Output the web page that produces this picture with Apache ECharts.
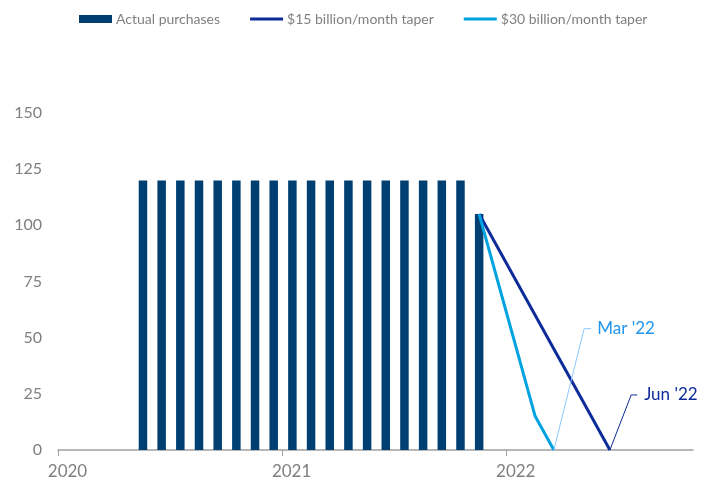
<!DOCTYPE html>
<html>
<head>
<meta charset="utf-8">
<script src="https://cdn.jsdelivr.net/npm/echarts@6/dist/echarts.min.js"></script>
<style>html,body{margin:0;padding:0;background:#fff}#c{width:711px;height:481px}</style>
</head>
<body>
<div id="c"></div>
<script>
// Data (months as 'YYYY-MM'; values in $ billion/month)
const barMonths = ['2020-05','2020-06','2020-07','2020-08','2020-09','2020-10','2020-11','2020-12',
  '2021-01','2021-02','2021-03','2021-04','2021-05','2021-06','2021-07','2021-08','2021-09','2021-10','2021-11'];
const barValues = [120,120,120,120,120,120,120,120,120,120,120,120,120,120,120,120,120,120,105];
const taper15Months = ['2021-11','2021-12','2022-01','2022-02','2022-03','2022-04','2022-05','2022-06'];
const taper15Values = [105,90,75,60,45,30,15,0];
const taper30Months = ['2021-11','2021-12','2022-01','2022-02','2022-03'];
const taper30Values = [105,75,45,15,0];
const xTickYears = [2020, 2021, 2022];
const yTicks = [0,25,50,75,100,125,150];
const seriesNames = ['Actual purchases','$15 billion/month taper','$30 billion/month taper'];
// annotation leader lines: [month position, value]
const marLeader = [['2022-03', 0], [28.17, 54], [28.55, 54]];
const junLeader = [['2022-06', 0], [30.69, 24.5], [31.01, 24.5]];

const BASE_YEAR = 2020;
const MID = 0.55;
const mPos = (s) => { const [y, m] = s.split('-').map(Number); return (y - BASE_YEAR) * 12 + (m - 1) + MID; };
const toPos = (p) => typeof p === 'string' ? mPos(p) : p;
const zip = (d, v) => d.map((x, i) => [mPos(x), v[i]]);
const leader = (arr) => arr.map(([x, v]) => [toPos(x), v]);
const yearTicks = xTickYears.map(y => (y - BASE_YEAR) * 12);

const chart = echarts.init(document.getElementById('c'), null, {renderer: 'canvas'});
const FONT = 'Lato';
const lineIcon = 'path://M0,0 M0,2.5 L33,2.5 L33,5.5 L0,5.5 Z M33,8';
chart.setOption({
  animation: false,
  textStyle: {fontFamily: FONT},
  legend: {
    top: 12, left: 79, padding: 0,
    itemWidth: 33, itemHeight: 8, itemGap: 30,
    textStyle: {color: '#808080', fontSize: 14, fontFamily: FONT, padding: [0,0,0,-1]},
    data: [{name: seriesNames[0], icon: 'rect'}, {name: seriesNames[1], icon: lineIcon}, {name: seriesNames[2], icon: lineIcon}]
  },
  grid: {left: 58, right: 18, top: 113, bottom: 31, containLabel: false},
  xAxis: {
    type: 'value',
    min: 0, max: 34, interval: 12,
    axisLine: {show: true, onZero: false, lineStyle: {color: '#a0a0a0', width: 1.5}},
    axisTick: {show: true, length: 6, customValues: yearTicks, lineStyle: {color: '#a0a0a0'}},
    splitLine: {show: false},
    axisLabel: {customValues: yearTicks, formatter: (v) => String(BASE_YEAR + Math.round(v / 12)),
      color: '#7f7f7f', fontSize: 17, margin: 13, fontFamily: FONT, padding: [0,0,0,19]}
  },
  yAxis: {
    type: 'value', min: yTicks[0], max: yTicks[yTicks.length - 1], interval: 25,
    axisLine: {show: false}, axisTick: {show: false}, splitLine: {show: false},
    axisLabel: {color: '#7f7f7f', fontSize: 16, margin: 16, fontFamily: FONT}
  },
  series: [
    {name: seriesNames[0], type: 'bar', data: zip(barMonths, barValues), barWidth: 8.5,
     itemStyle: {color: '#003f72'}},
    {name: seriesNames[1], type: 'line', data: zip(taper15Months, taper15Values), symbol: 'none',
     lineStyle: {color: '#0d2c9a', width: 3}, itemStyle: {color: '#0d2c9a'}, z: 3},
    {name: seriesNames[2], type: 'line', data: zip(taper30Months, taper30Values), symbol: 'none',
     lineStyle: {color: '#00a3e0', width: 3}, itemStyle: {color: '#00a3e0'}, z: 4},
    {name: 'marLeader', type: 'line', data: leader(marLeader), symbol: 'none', silent: true,
     lineStyle: {color: '#8cc8ff', width: 1}, z: 5,
     endLabel: {show: true, formatter: "Mar '22", color: '#2196f0', fontSize: 17, fontFamily: FONT, distance: 6}},
    {name: 'junLeader', type: 'line', data: leader(junLeader), symbol: 'none', silent: true,
     lineStyle: {color: '#0d2c9a', width: 1}, z: 5,
     endLabel: {show: true, formatter: "Jun '22", color: '#0d2c9a', fontSize: 17, fontFamily: FONT, distance: 7}}
  ]
});
</script>
</body>
</html>
